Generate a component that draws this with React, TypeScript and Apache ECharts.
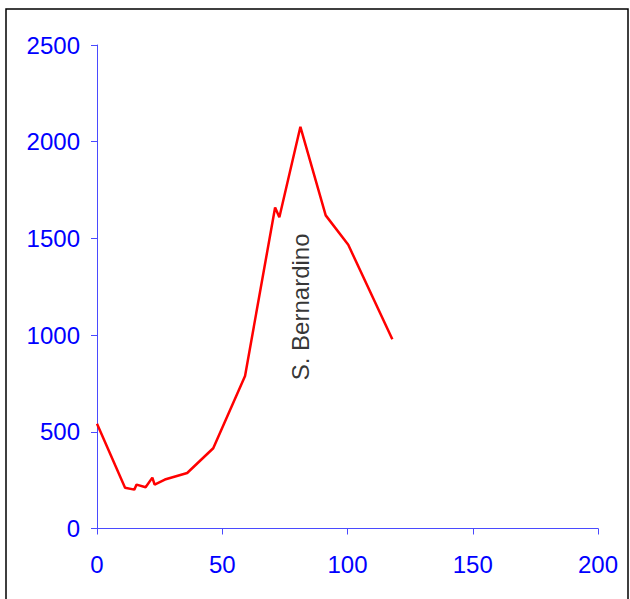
import React, { useEffect, useRef } from "react";
import * as echarts from "echarts";

const xValues = [0, 11.2, 14.9, 15.8, 19.4, 22.1, 23.0, 27.1, 36.0, 46.4, 59.1, 71.1, 72.8, 81.2, 91.3, 100.3, 117.9];
const yValues = [541, 211, 201, 227, 213, 263, 227, 253, 287, 415, 789, 1660, 1609, 2077, 1619, 1467, 979];
const labelText = "S. Bernardino";
const labelPos = [81.2, 1146];

export default function App() {
  const ref = useRef<HTMLDivElement>(null);
  useEffect(() => {
    if (!ref.current) return;
    const chart = echarts.init(ref.current, null, { renderer: "svg" });
    const axisColor = "#4a4aff";
    const labelColor = "#0000ff";
    const font = "'Liberation Sans', Arial, sans-serif";
    const plain = (v: number) => String(v);
    chart.setOption({
      animation: false,
      backgroundColor: "#ffffff",
      grid: { left: 97, right: 32, top: 45, bottom: 70.5, containLabel: false },
      graphic: [
        {
          type: "rect",
          shape: { x: 6, y: 9, width: 622, height: 620 },
          style: { fill: "none", stroke: "#000", lineWidth: 1.5 },
          silent: true,
        },
      ],
      xAxis: {
        type: "value",
        min: 0,
        max: 200,
        interval: 50,
        splitLine: { show: false },
        axisLine: { show: true, onZero: false, lineStyle: { color: axisColor, width: 1 } },
        axisTick: { show: true, length: 6, lineStyle: { color: axisColor } },
        axisLabel: { color: labelColor, fontSize: 24, fontFamily: font, margin: 24, formatter: plain },
      },
      yAxis: {
        type: "value",
        min: 0,
        max: 2500,
        interval: 500,
        splitLine: { show: false },
        axisLine: { show: true, lineStyle: { color: axisColor, width: 1 } },
        axisTick: { show: true, length: 6, lineStyle: { color: axisColor } },
        axisLabel: { color: labelColor, fontSize: 24, fontFamily: font, margin: 17, formatter: plain },
      },
      series: [
        {
          type: "line",
          data: xValues.map((x, i) => [x, yValues[i]]),
          showSymbol: false,
          symbol: "none",
          lineStyle: { color: "#ff0000", width: 2.5 },
          z: 2,
        },
        {
          type: "scatter",
          data: [labelPos],
          symbolSize: 0,
          label: {
            show: true,
            position: "inside",
            rotate: 90,
            formatter: labelText,
            color: "#000000",
            textBorderWidth: 0,
            fontSize: 24,
            fontFamily: font,
          },
          z: 3,
        },
      ],
    });
    return () => chart.dispose();
  }, []);
  return (
    <div
      ref={ref}
      style={{ position: "fixed", left: 0, top: 0, width: 630, height: 599, background: "#fff" }}
    />
  );
}
